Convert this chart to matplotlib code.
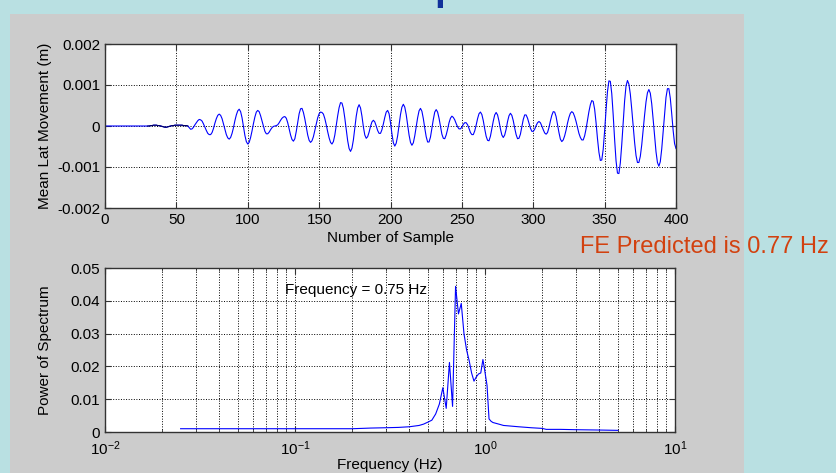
import numpy as np
from matplotlib import pyplot as plt

plt.rcParams['font.family'] = 'Liberation Sans'
plt.rcParams['font.size'] = 11
plt.rcParams['mathtext.fontset'] = 'custom'
plt.rcParams['mathtext.rm'] = 'Liberation Sans'
plt.rcParams['mathtext.it'] = 'Liberation Sans:italic'

# top plot: mean lateral movement per sample (units of 1e-5 m)
movement = [0] * 30 + [
    0, 0, 1, 1, 2, 2, 2, 1, 1, 0,
    -1, -2, -3, -3, -2, -1, 0, 1, 1, 2,
    2, 2, 2, 2, 2, 1, 1, 1, 0, -4,
    -8, -7, -3, 3, 8, 13, 16, 15, 12, 5,
    -3, -11, -18, -21, -21, -16, -6, 7, 18, 26,
    29, 26, 18, 5, -8, -21, -29, -32, -28, -18,
    -4, 13, 27, 37, 41, 35, 20, -2, -23, -38,
    -44, -40, -28, -12, 6, 22, 34, 38, 35, 25,
    12, -1, -13, -19, -19, -15, -9, -4, -1, 0,
    1, 3, 8, 14, 19, 22, 23, 19, 8, -7,
    -22, -33, -37, -31, -13, 9, 30, 42, 43, 33,
    17, -3, -22, -35, -40, -36, -26, -11, 5, 20,
    30, 34, 33, 29, 18, 3, -14, -29, -40, -44,
    -38, -22, 1, 25, 45, 57, 56, 43, 19, -9,
    -36, -55, -62, -54, -34, -5, 24, 44, 52, 44,
    24, -2, -22, -30, -26, -15, -1, 10, 14, 10,
    0, -11, -18, -18, -9, 5, 21, 34, 38, 30,
    8, -19, -41, -49, -42, -24, 2, 28, 46, 53,
    46, 28, 3, -22, -40, -47, -41, -24, -2, 20,
    37, 43, 36, 18, -5, -26, -39, -39, -27, -6,
    16, 34, 40, 34, 19, -1, -20, -30, -31, -22,
    -8, 8, 19, 24, 21, 15, 6, -2, -7, -7,
    -3, 4, 8, 8, 3, -6, -16, -21, -21, -12,
    2, 18, 30, 34, 28, 13, -7, -25, -35, -36,
    -25, -7, 12, 27, 33, 27, 12, -7, -22, -28,
    -22, -8, 11, 25, 31, 26, 13, -5, -21, -31,
    -30, -20, -2, 16, 27, 27, 19, 7, -5, -13,
    -13, -8, 1, 8, 11, 8, 0, -9, -17, -20,
    -16, -4, 12, 26, 35, 34, 23, 4, -16, -32,
    -38, -34, -24, -10, 7, 21, 31, 35, 32, 23,
    11, -4, -18, -28, -34, -34, -24, -7, 14, 35,
    52, 62, 60, 41, 8, -31, -64, -84, -83, -57,
    -12, 39, 84, 110, 109, 79, 27, -33, -85, -115,
    -116, -90, -45, 10, 61, 98, 111, 102, 78, 41,
    -1, -40, -72, -89, -89, -74, -46, -10, 27, 59,
    81, 89, 80, 54, 16, -25, -63, -89, -98, -87,
    -56, -13, 32, 70, 91, 91, 68, 30, -11, -43,
    -55]

# bottom plot: power spectrum
freq = [0.025, 0.2, 0.225, 0.25, 0.3, 0.35, 0.4, 0.45, 0.475, 0.5,
        0.525, 0.55, 0.575, 0.6, 0.625, 0.65, 0.675, 0.7, 0.725, 0.75,
        0.775, 0.8, 0.825, 0.85, 0.875, 0.9, 0.925, 0.95, 0.975, 1.0,
        1.025, 1.05, 1.075, 1.1, 1.2, 1.25, 1.5, 1.75, 2.0, 2.1,
        2.5, 3.0, 4.0, 5.0]
power = [0.0010, 0.0010, 0.0011, 0.0012, 0.0013, 0.0014, 0.0016, 0.0020, 0.0024, 0.0030,
         0.0036, 0.0055, 0.0085, 0.0135, 0.0072, 0.0212, 0.0078, 0.0444, 0.0360, 0.0392,
         0.0300, 0.0250, 0.0218, 0.0180, 0.0155, 0.0168, 0.0177, 0.0180, 0.0221, 0.0182,
         0.0142, 0.0040, 0.0033, 0.0029, 0.0023, 0.0020, 0.0016, 0.0013, 0.0011, 0.0008,
         0.0008, 0.0007, 0.0006, 0.0005]

top_xticks = [0, 50, 100, 150, 200, 250, 300, 350, 400]
top_yticks = [-0.002, -0.001, 0, 0.001, 0.002]
top_ylabels = ["-0.002", "-0.001", "0", "0.001", "0.002"]
bot_yticks = [0, 0.01, 0.02, 0.03, 0.04, 0.05]
bot_ylabels = ["0", "0.01", "0.02", "0.03", "0.04", "0.05"]

W, H = 836, 473
fig = plt.figure(figsize=(W / 100, H / 100), dpi=100, facecolor='#b9e0e2')
fig.add_artist(plt.Rectangle((10 / W, 0), 734 / W, 459 / H, transform=fig.transFigure,
                             facecolor='#cccccc', edgecolor='none', zorder=0))

# cut-off title glyph at the very top
fig.text(434 / W, 1.0, 'p', fontsize=28, fontweight='bold', color='#10309a',
         ha='left', va='baseline')


def style(ax):
    for s in ax.spines.values():
        s.set_color('#333333')
        s.set_linewidth(1.0)
    ax.tick_params(which='both', direction='in', top=True, right=True,
                   labelsize=11, colors='#333333', labelcolor='black')
    ax.tick_params(which='major', length=4)
    ax.tick_params(which='minor', length=2)


ax1 = fig.add_axes([105 / W, 1 - 208 / H, 571 / W, 164 / H])
ax1.plot(np.arange(len(movement)), np.array(movement) * 1e-5, color='#0000ff', lw=0.8)
ax1.plot(np.arange(30, 59), np.array(movement[30:59]) * 1e-5, color='#000060', lw=0.8)
ax1.set_xlim(0, 400)
ax1.set_ylim(-0.002, 0.002)
ax1.set_xticks(top_xticks)
ax1.set_yticks(top_yticks)
ax1.set_yticklabels(top_ylabels)
ax1.grid(True, linestyle=':', color='black', linewidth=0.7)
style(ax1)
ax1.set_xlabel('Number of Sample')
ax1.set_ylabel('Mean Lat Movement (m)')
ax1.xaxis.set_label_coords(0.5, -0.14)
ax1.yaxis.set_label_coords(-0.093, 0.5)

ax2 = fig.add_axes([105 / W, 1 - 432 / H, 570 / W, 164 / H])
ax2.semilogx(freq, power, color='#0000ff', lw=0.8)
ax2.set_xlim(0.01, 10)
ax2.set_ylim(0, 0.05)
ax2.set_yticks(bot_yticks)
ax2.set_yticklabels(bot_ylabels)
ax2.grid(True, which='major', linestyle=':', color='black', linewidth=0.7)
ax2.grid(True, which='minor', axis='x', linestyle=':', color='black', linewidth=0.7)
style(ax2)
ax2.tick_params(axis='x', which='major', pad=5)
ax2.set_xlabel('Frequency (Hz)')
ax2.set_ylabel('Power of Spectrum')
ax2.xaxis.set_label_coords(0.5, -0.16)
ax2.yaxis.set_label_coords(-0.093, 0.5)
ax2.text(0.0886, 0.0434, 'Frequency = 0.75 Hz', fontsize=11, va='center', ha='left')

fig.text(580 / W, 1 - 247 / H, 'FE Predicted is 0.77 Hz', fontsize=17,
         color='#d2410f', ha='left', va='center')

fig.savefig('out.png', dpi=100, facecolor=fig.get_facecolor())
